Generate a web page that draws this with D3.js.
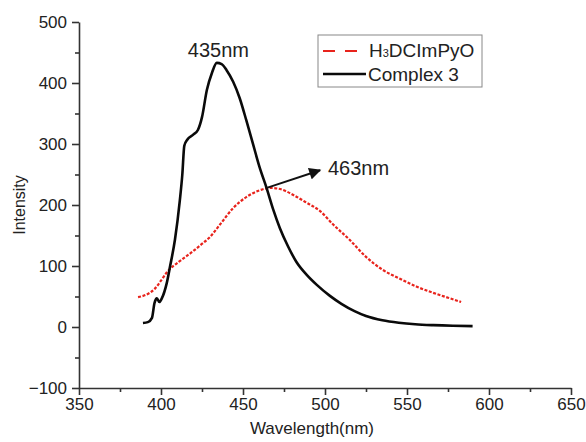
<!DOCTYPE html>
<html>
<head>
<meta charset="utf-8">
<script src="https://cdn.jsdelivr.net/npm/d3@7"></script>
<style>
  body { margin: 0; background: #fff; }
  svg text { font-family: "Liberation Sans", Arial, sans-serif; fill: #222; }
  .axis path, .axis line { stroke: #333; stroke-width: 1.6; }
  .axis text { font-size: 17px; fill: #222; }
</style>
</head>
<body>
<div id="chart"></div>
<script>
// Complex 3 (black solid)
const complexWl = [389, 392, 394.5, 396, 397.5, 399, 400.5, 403.5, 405.5, 408.5, 411.5, 413, 414.2, 416, 419.5, 422.5,
  425, 428, 431, 434, 437, 440, 444, 448, 452, 456, 460, 464.5, 468.5, 472.5, 477.5, 482.5, 489, 495, 503,
  510, 518, 525, 535, 545, 555, 566, 578, 590];
const complexI = [6.5, 8, 15, 39, 47, 41, 47, 72, 99, 143, 208, 250, 297, 307, 315, 323,
  344, 389, 416, 433, 431, 421, 402, 375, 339, 301, 263, 227, 192, 162, 132, 107, 85, 69, 51,
  38, 26, 18, 11, 7, 4.5, 3, 2, 1.5];

// H3DCImPyO (red dashed)
const ligandWl = [386, 391, 396, 400, 404, 411, 418, 424, 430, 436, 444, 452, 460, 467, 474, 481, 488, 497,
  505, 515, 525, 535, 545, 556, 566, 575, 583];
const ligandI = [49, 53, 62, 76, 91, 107, 121, 134, 148, 168, 195, 213, 224, 228, 225, 216, 205, 190,
  168, 143, 115, 94, 80, 66, 56, 48, 41];

const xTicks = [350, 400, 450, 500, 550, 600, 650];
const xMinor = [375, 425, 475, 525, 575, 625];
const yTicks = [-100, 0, 100, 200, 300, 400, 500];
const yMinor = [-50, 50, 150, 250, 350, 450];

const peakLabels = [
  { text: "435nm", wl: 435, val: 443 },
  { text: "463nm", wl: 497.5, val: 250 }
];
const arrow = { from: [464.5, 228], to: [497, 257] };

const width = 586, height = 442;
const margin = { top: 22, right: 15, bottom: 54, left: 79 };
const w = width - margin.left - margin.right;
const h = height - margin.top - margin.bottom;

const svg = d3.select("#chart").append("svg")
  .attr("width", width)
  .attr("height", height);

svg.append("defs").append("marker")
  .attr("id", "head")
  .attr("viewBox", "0 0 10 10")
  .attr("refX", 9).attr("refY", 5)
  .attr("markerWidth", 7).attr("markerHeight", 6)
  .attr("markerUnits", "strokeWidth")
  .attr("orient", "auto")
  .append("path")
  .attr("d", "M0,0 L10,5 L0,10 z")
  .attr("fill", "#111");

const g = svg.append("g").attr("transform", `translate(${margin.left},${margin.top})`);

const x = d3.scaleLinear().domain([350, 650]).range([0, w]);
const y = d3.scaleLinear().domain([-100, 500]).range([h, 0]);

// minor ticks
g.append("g").attr("class", "axis")
  .attr("transform", `translate(0,${h})`)
  .call(d3.axisBottom(x).tickValues(xMinor).tickSize(4).tickFormat("").tickSizeOuter(0))
  .call(s => s.select(".domain").remove());
g.append("g").attr("class", "axis")
  .call(d3.axisLeft(y).tickValues(yMinor).tickSize(4).tickFormat("").tickSizeOuter(0))
  .call(s => s.select(".domain").remove());

// major axes
g.append("g").attr("class", "axis")
  .attr("transform", `translate(0,${h})`)
  .call(d3.axisBottom(x).tickValues(xTicks).tickSize(7).tickPadding(3).tickSizeOuter(0));
g.append("g").attr("class", "axis")
  .call(d3.axisLeft(y).tickValues(yTicks).tickSize(7).tickPadding(5).tickSizeOuter(0));

const line = d3.line()
  .x(d => x(d[0]))
  .y(d => y(d[1]))
  .curve(d3.curveMonotoneX);

g.append("path")
  .datum(ligandWl.map((d, i) => [d, ligandI[i]]))
  .attr("fill", "none")
  .attr("stroke", "#e8231c")
  .attr("stroke-width", 2.2)
  .attr("stroke-dasharray", "3,1.6")
  .attr("d", line);

g.append("path")
  .datum(complexWl.map((d, i) => [d, complexI[i]]))
  .attr("fill", "none")
  .attr("stroke", "#0a0a0a")
  .attr("stroke-width", 2.6)
  .attr("stroke-linejoin", "round")
  .attr("d", line);

// annotation arrow and labels
g.append("line")
  .attr("x1", x(arrow.from[0])).attr("y1", y(arrow.from[1]))
  .attr("x2", x(arrow.to[0])).attr("y2", y(arrow.to[1]))
  .attr("stroke", "#111")
  .attr("stroke-width", 2)
  .attr("marker-end", "url(#head)");

g.selectAll(".peak")
  .data(peakLabels)
  .join("text")
  .attr("class", "peak")
  .attr("x", (d, i) => i === 0 ? x(d.wl) : x(d.wl) + 7)
  .attr("y", d => y(d.val))
  .attr("text-anchor", (d, i) => i === 0 ? "middle" : "start")
  .style("font-size", "20px")
  .text(d => d.text);

// axis titles
svg.append("text")
  .attr("x", 312).attr("y", 434)
  .attr("text-anchor", "middle")
  .style("font-size", "17px")
  .text("Wavelength(nm)");

svg.append("text")
  .attr("transform", "translate(25,205) rotate(-90)")
  .attr("text-anchor", "middle")
  .style("font-size", "16px")
  .text("Intensity");

// legend
const lg = svg.append("g").attr("transform", "translate(318,35)");
lg.append("rect")
  .attr("width", 164).attr("height", 52)
  .attr("fill", "#fff")
  .attr("stroke", "#888")
  .attr("stroke-width", 1);
lg.append("line")
  .attr("x1", 5).attr("x2", 47).attr("y1", 16).attr("y2", 16)
  .attr("stroke", "#e8231c").attr("stroke-width", 2.2)
  .attr("stroke-dasharray", "12,10");
lg.append("line")
  .attr("x1", 5).attr("x2", 48).attr("y1", 39).attr("y2", 39)
  .attr("stroke", "#0a0a0a").attr("stroke-width", 2.6);
const t1 = lg.append("text").attr("x", 51).attr("y", 22).style("font-size", "19px");
t1.append("tspan").text("H");
t1.append("tspan").style("font-size", "11px").text("3");
t1.append("tspan").text("DCImPyO");
lg.append("text").attr("x", 50).attr("y", 46).style("font-size", "19px").text("Complex 3");
</script>
</body>
</html>
